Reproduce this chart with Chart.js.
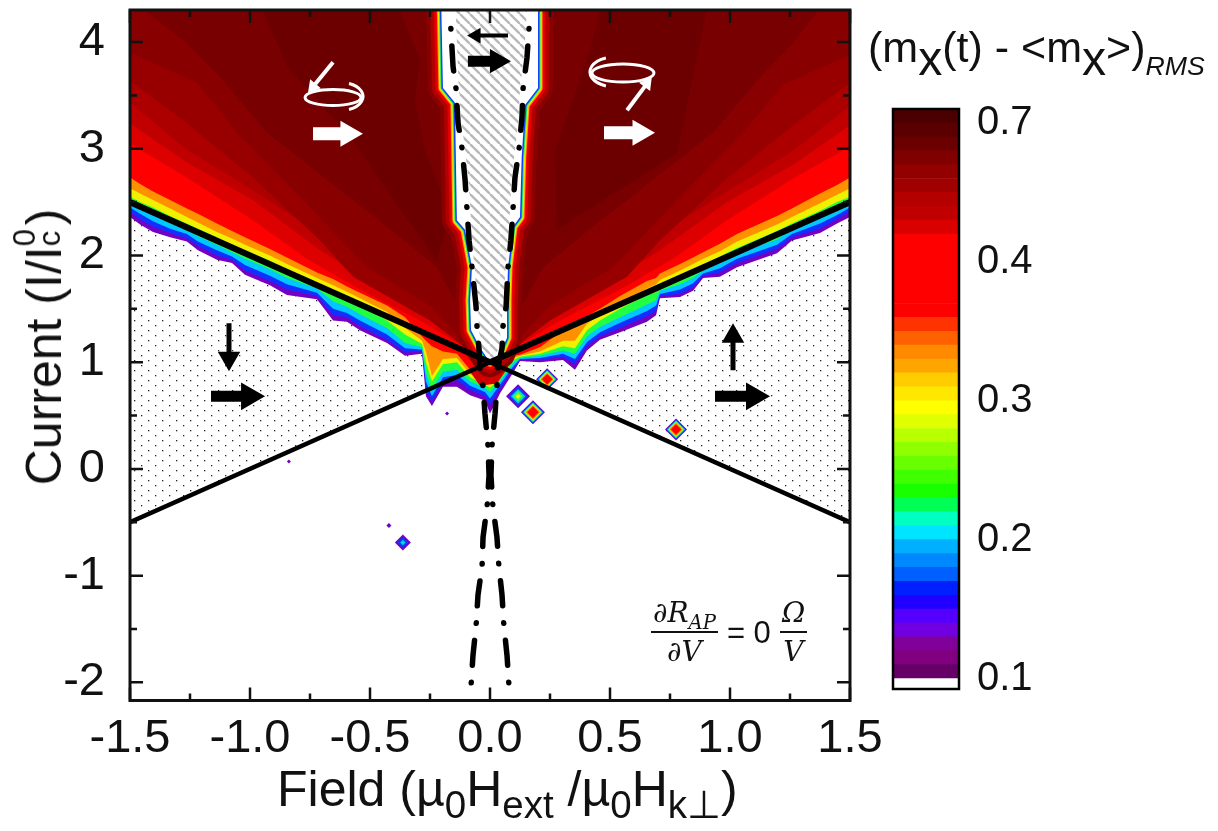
<!DOCTYPE html>
<html>
<head>
<meta charset="utf-8">
<script src="https://cdn.jsdelivr.net/npm/chart.js@4"></script>
<style>
  html, body { margin: 0; padding: 0; background: #fff; width: 1218px; height: 831px; overflow: hidden; }
  canvas { position: absolute; }
  .txt { position: absolute; font-family: "Liberation Sans", Arial, sans-serif; color: #111; white-space: nowrap; line-height: 1; }
  .low { position: relative; top: .3em; font-size: 77%; }
  #xTitle { left: 277px; top: 764px; font-size: 50px; }
  #yTitle { left: 40px; top: 347px; font-size: 50px; transform: translate(-50%, -50%) rotate(-90deg); }
  #yTitle .stack { display: inline-block; position: relative; width: .42em; height: 1em; vertical-align: baseline; }
  #yTitle .stack i { position: absolute; left: 0; font-style: normal; font-size: 62%; }
  #cbTitle { left: 868px; top: 21px; font-size: 43px; }
  #cbTitle .x { position: relative; top: .26em; font-size: 112%; }
  #cbTitle .rms { position: relative; top: .5em; font-size: 62%; font-style: italic; }
  #formula { left: 651px; top: 599px; font-size: 31px; display: flex; align-items: center; gap: 9px; }
  .frac { display: inline-flex; flex-direction: column; align-items: center; font-family: "DejaVu Serif", serif; font-style: italic; font-size: 28px; }
  .frac span:first-child { border-bottom: 2px solid #111; padding: 0 2px 4px; width: 100%; text-align: center; box-sizing: border-box; }
  .frac span:last-child { padding-top: 5px; }
  .frac sub { font-size: 70%; line-height: 0; }
</style>
</head>
<body>
<canvas id="mapChart" width="1218" height="837" style="left:0;top:-6px;width:1218px;height:837px"></canvas>
<canvas id="barChart" width="358" height="620" style="left:860px;top:90px;width:358px;height:620px"></canvas>
<div class="txt" id="xTitle">Field (µ<span class="low">0</span>H<span class="low">ext</span> /µ<span class="low">0</span>H<span class="low">k⊥</span>)</div>
<div class="txt" id="yTitle">Current (I/I<span class="stack"><i style="top:-.05em">0</i><i style="top:.75em">c</i></span>)</div>
<div class="txt" id="cbTitle">(m<span class="x">x</span>(t) - &lt;m<span class="x">x</span>&gt;)<span class="rms">RMS</span></div>
<div class="txt" id="formula">
  <span class="frac"><span>∂R<sub>AP</sub></span><span>∂V</span></span>
  <span>= 0</span>
  <span class="frac"><span>Ω</span><span>V</span></span>
</div>
<script>
// axes
const xTicks = [-1.5, -1.0, -0.5, 0.0, 0.5, 1.0, 1.5];
const xMinor = [-1.25, -0.75, -0.25, 0.25, 0.75, 1.25];
const yTicks = [-2, -1, 0, 1, 2, 3, 4];
const yMinor = [-1.5, -0.5, 0.5, 1.5, 2.5, 3.5];

// contour levels: field value on fieldGrid -> current of the level edge
const fieldGrid = [-1.5, -1.458, -1.404, -1.333, -1.263, -1.217, -1.138, -1.075, -1.021, -0.917, -0.846, -0.721, -0.654, -0.596, -0.542, -0.429, -0.354, -0.283, -0.267, -0.242, -0.196, -0.138, -0.083, -0.021, 0, 0.042, 0.096, 0.125, 0.208, 0.304, 0.354, 0.404, 0.458, 0.542, 0.654, 0.692, 0.708, 0.792, 0.846, 0.888, 0.958, 1.029, 1.196, 1.258, 1.375, 1.446, 1.5];
const levelPurple = [2.36, 2.29, 2.22, 2.17, 2.13, 2.05, 1.96, 1.93, 1.82, 1.72, 1.63, 1.59, 1.39, 1.38, 1.30, 1.18, 1.06, 1.08, 0.68, 0.59, 0.77, 0.77, 0.69, 0.64, 0.52, 0.71, 0.90, 1.01, 1.00, 1.02, 0.93, 1.11, 1.21, 1.28, 1.38, 1.44, 1.60, 1.61, 1.67, 1.79, 1.80, 1.89, 2.02, 2.14, 2.21, 2.30, 2.36];
const levelBlue = [2.41, 2.34, 2.27, 2.21, 2.16, 2.09, 2.00, 1.96, 1.86, 1.76, 1.68, 1.62, 1.44, 1.42, 1.34, 1.21, 1.09, 1.10, 0.74, 0.63, 0.81, 0.83, 0.74, 0.68, 0.60, 0.75, 0.93, 1.02, 1.02, 1.05, 0.98, 1.15, 1.24, 1.32, 1.43, 1.48, 1.62, 1.64, 1.70, 1.81, 1.84, 1.93, 2.06, 2.17, 2.25, 2.34, 2.41];
const levelCyan = [2.45, 2.39, 2.32, 2.25, 2.20, 2.13, 2.05, 1.99, 1.91, 1.81, 1.73, 1.65, 1.50, 1.46, 1.39, 1.26, 1.13, 1.12, 0.82, 0.68, 0.86, 0.88, 0.78, 0.72, 0.66, 0.79, 0.96, 1.03, 1.04, 1.08, 1.03, 1.19, 1.28, 1.37, 1.48, 1.53, 1.64, 1.68, 1.74, 1.83, 1.88, 1.97, 2.10, 2.20, 2.30, 2.38, 2.45];
const levelGreen = [2.49, 2.44, 2.38, 2.30, 2.24, 2.18, 2.10, 2.03, 1.97, 1.87, 1.79, 1.69, 1.57, 1.52, 1.45, 1.32, 1.18, 1.14, 0.90, 0.74, 0.91, 0.93, 0.82, 0.76, 0.72, 0.82, 0.99, 1.04, 1.06, 1.11, 1.08, 1.24, 1.33, 1.42, 1.54, 1.58, 1.67, 1.73, 1.79, 1.86, 1.93, 2.02, 2.15, 2.24, 2.35, 2.43, 2.49];
const levelYellow = [2.55, 2.50, 2.45, 2.37, 2.30, 2.25, 2.17, 2.10, 2.05, 1.95, 1.87, 1.74, 1.67, 1.61, 1.54, 1.39, 1.26, 1.17, 1.00, 0.82, 0.98, 1.00, 0.86, 0.79, 0.76, 0.85, 1.02, 1.05, 1.08, 1.15, 1.13, 1.30, 1.39, 1.50, 1.63, 1.66, 1.72, 1.81, 1.86, 1.91, 1.99, 2.07, 2.23, 2.30, 2.42, 2.50, 2.55];
const levelOrange = [2.63, 2.58, 2.52, 2.44, 2.36, 2.31, 2.22, 2.16, 2.10, 2.00, 1.92, 1.79, 1.72, 1.66, 1.60, 1.47, 1.32, 1.20, 1.10, 0.87, 1.03, 1.04, 0.89, 0.82, 0.80, 0.87, 1.04, 1.06, 1.10, 1.20, 1.20, 1.36, 1.44, 1.56, 1.69, 1.73, 1.77, 1.86, 1.92, 1.97, 2.04, 2.13, 2.29, 2.36, 2.49, 2.57, 2.63];
const levelRed = [2.73, 2.67, 2.60, 2.52, 2.44, 2.39, 2.30, 2.23, 2.17, 2.06, 1.98, 1.84, 1.78, 1.71, 1.65, 1.53, 1.42, 1.24, 1.20, 1.15, 1.10, 1.08, 0.93, 0.85, 0.84, 0.90, 1.06, 1.07, 1.14, 1.30, 1.35, 1.43, 1.50, 1.62, 1.76, 1.79, 1.83, 1.92, 1.98, 2.03, 2.11, 2.20, 2.37, 2.44, 2.58, 2.66, 2.73];

// darker levels of the fan
const fanX1 = [-1.5, -1.263, -0.988, -0.763, -0.542, -0.292, -0.083, 0, 0.083, 0.292, 0.542, 0.763, 0.988, 1.263, 1.5];
const fanY1 = [3.05, 2.73, 2.33, 1.97, 1.68, 1.39, 1.11, 1.02, 1.11, 1.39, 1.68, 1.97, 2.33, 2.72, 3.02];
const fanX2 = [-1.5, -1.263, -0.988, -0.708, -0.458, -0.208, -0.092, 0, 0.092, 0.208, 0.458, 0.708, 0.988, 1.263, 1.5];
const fanY2 = [3.24, 2.87, 2.52, 2.05, 1.70, 1.35, 1.11, 1.04, 1.11, 1.33, 1.70, 2.05, 2.50, 2.85, 3.22];
const fanX3 = [-1.5, -1.263, -0.988, -0.763, -0.458, -0.208, -0.104, 0, 0.104, 0.208, 0.458, 0.763, 0.988, 1.263, 1.5];
const fanY3 = [3.43, 2.99, 2.61, 2.28, 1.82, 1.44, 1.20, 1.06, 1.20, 1.44, 1.82, 2.28, 2.60, 2.98, 3.40];
const fanX4 = [-1.5, -1.263, -0.988, -0.708, -0.571, -0.25, -0.117, 0, 0.117, 0.25, 0.571, 0.708, 0.988, 1.263, 1.5];
const fanY4 = [3.64, 3.24, 2.73, 2.14, 1.80, 1.39, 1.16, 1.08, 1.16, 1.39, 1.80, 2.14, 2.72, 3.22, 3.62];
const fanX5 = [-1.5, -1.221, -1.054, -0.779, -0.513, -0.25, -0.133, 0, 0.133, 0.25, 0.513, 0.779, 1.054, 1.221, 1.5];
const fanY5 = [3.90, 3.62, 3.15, 2.52, 1.89, 1.53, 1.25, 1.10, 1.25, 1.53, 1.89, 2.52, 3.15, 3.60, 3.88];
const fanX6 = [-1.44, -1.263, -1.125, -0.929, -0.679, -0.429, -0.221, -0.146, 0, 0.146, 0.221, 0.429, 0.679, 0.929, 1.125, 1.263, 1.37];
const fanY6 = [4.30, 3.99, 3.67, 3.15, 2.71, 2.27, 1.89, 1.58, 1.20, 1.58, 1.89, 2.27, 2.71, 3.15, 3.67, 3.99, 4.30];

// darkest patches and the dark blob under the crossing
const patchLeftX = [-0.946, -0.846, -0.571, -0.363, -0.221, -0.167, -0.271, -0.313, -0.292, -0.375];
const patchLeftY = [4.30, 3.77, 3.08, 2.40, 1.95, 2.38, 2.99, 3.45, 3.83, 4.30];
const patchRightX = [0.5, 0.904, 0.863, 0.779, 0.279, 0.271, 0.417, 0.458];
const patchRightY = [4.30, 4.30, 3.86, 2.96, 2.24, 2.99, 3.92, 4.30];
const blobX = [-0.083, -0.042, 0.042, 0.075, 0.029, -0.042];
const blobY = [0.91, 1.00, 1.00, 0.95, 0.80, 0.78];

// central no-precession gap
const gapX = [-0.204, -0.196, -0.146, -0.138, -0.104, -0.075, -0.083, -0.079, -0.042, 0, 0.042, 0.071, 0.071, 0.075, 0.096, 0.125, 0.132, 0.146, 0.2, 0.2];
const gapY = [4.45, 3.57, 3.43, 2.33, 2.24, 1.89, 1.58, 1.30, 1.14, 1.00, 1.08, 1.23, 1.58, 1.89, 2.27, 2.36, 2.92, 3.41, 3.57, 4.45];
const hatchX = [-0.146, -0.13, -0.118, -0.105, -0.09, -0.082, -0.075, -0.065, -0.05, -0.046, -0.038, 0, 0.038, 0.046, 0.055, 0.065, 0.075, 0.084, 0.09, 0.105, 0.12, 0.125, 0.14, 0.15, 0.155];
const hatchY = [4.45, 3.57, 3.24, 3.01, 2.71, 2.44, 2.14, 1.89, 1.52, 1.33, 1.13, 1.00, 1.13, 1.33, 1.52, 1.89, 2.14, 2.44, 2.73, 3.00, 3.29, 3.57, 3.85, 4.13, 4.45];

// boundary lines
const wedgeX = [-1.5, 0, 1.5];
const wedgeUpper = [2.5, 1, 2.5];
const wedgeLower = [-0.5, 1, -0.5];
const dashLeftX = [-0.167, -0.154, -0.142, -0.133, -0.117, -0.104, -0.096, -0.087, -0.075, -0.058, -0.054, -0.046, -0.042, -0.029, -0.021, -0.008, -0.004, -0.012, -0.029, -0.033, -0.05, -0.058, -0.071, -0.079];
const dashRightX = [0.167, 0.154, 0.138, 0.133, 0.121, 0.104, 0.096, 0.087, 0.075, 0.067, 0.054, 0.05, 0.033, 0.029, 0.021, 0.008, 0.004, 0.012, 0.029, 0.037, 0.05, 0.058, 0.071, 0.079];
const dashLeftY = [4.28, 3.77, 3.57, 3.24, 3.01, 2.71, 2.44, 2.14, 1.89, 1.52, 1.33, 1.13, 0.94, 0.77, 0.52, 0.21, -0.06, -0.35, -0.64, -0.91, -1.18, -1.47, -1.75, -2.03];
const dashRightY = [4.28, 3.85, 3.57, 3.29, 3.00, 2.73, 2.44, 2.14, 1.89, 1.52, 1.33, 1.13, 0.95, 0.77, 0.52, 0.21, -0.06, -0.35, -0.64, -0.91, -1.18, -1.47, -1.75, -2.03];

// isolated spots
const spotX = [0.117, 0.179, 0.238, 0.775, -0.363, -0.421, -0.179, -0.838];
const spotY = [0.68, 0.53, 0.84, 0.37, -0.69, -0.53, 0.52, 0.07];
const spotPeak = [5, 7, 7, 7, 3, 1, 1, 1];

// colour bar
const barColors = ["#660066", "#800080", "#800099", "#7000e0", "#5500ff", "#2000ff", "#0020ff", "#0060ff", "#0088ff", "#00b0ff", "#00e5ff", "#00ffc0", "#00ff55", "#18ff00", "#40ff00", "#68ff00", "#90ff00", "#b8ff00", "#e0ff00", "#ffff00", "#ffe800", "#ffcc00", "#ffa500", "#ff8a00", "#ff6000", "#ff3300", "#ff0000", "#ff0000", "#ff0000", "#ff0000", "#ff0000", "#ff0000", "#da0000", "#c00000", "#b50000", "#a00000", "#920000", "#800000", "#6a0000", "#5a0000", "#4a0000"];
const barTickPos = [0, 10, 20, 30, 40];
const barTickLabels = ["0.1", "0.2", "0.3", "0.4", "0.7"];

const pxPerX = 240, pxPerY = 106.67;
const pairs = (xs, ys) => xs.map((x, i) => ({ x: x, y: ys[i] }));

function makeTile(w, h, draw) {
  const c = document.createElement("canvas");
  c.width = w;
  c.height = h;
  const g = c.getContext("2d");
  g.fillStyle = "#fff";
  g.fillRect(0, 0, w, h);
  draw(g);
  return g.createPattern(c, "repeat");
}
const dotPattern = makeTile(14, 10, g => {
  g.fillStyle = "#222";
  g.fillRect(1, 1, 1.3, 1.3);
  g.fillRect(8, 6, 1.3, 1.3);
});
const hatchPattern = makeTile(10, 10, g => {
  g.strokeStyle = "#b8b8b8";
  g.lineWidth = 2.4;
  [-10, 0, 10].forEach(o => {
    g.beginPath();
    g.moveTo(o, 0);
    g.lineTo(o + 10, 10);
    g.stroke();
  });
});

const datasets = [];
function add(ds) {
  datasets.push(Object.assign({ showLine: true, pointRadius: 0, borderWidth: 0, order: -datasets.length }, ds));
}

// dotted wings
add({ data: pairs([-1.5, -1.5, 0], [-0.5, 2.6, 1]), polyFill: dotPattern });
add({ data: pairs([1.5, 1.5, 0], [-0.5, 2.6, 1]), polyFill: dotPattern });

// contour levels, low to high, each filled up to the top of the plot
[[levelPurple, "#7400c4"], [levelBlue, "#1030ff"], [levelCyan, "#00c8ff"], [levelGreen, "#20ff40"],
 [levelYellow, "#f0f000"], [levelOrange, "#ff9000"], [levelRed, "#ff0000"]].forEach(l => {
  add({ data: pairs(fieldGrid, l[0]), fill: "end", backgroundColor: l[1] });
});
[[fanX1, fanY1, "#dc0000"], [fanX2, fanY2, "#c00000"], [fanX3, fanY3, "#ac0000"],
 [fanX4, fanY4, "#980000"], [fanX5, fanY5, "#880000"], [fanX6, fanY6, "#780000"]].forEach(l => {
  add({ data: pairs(l[0], l[1]), fill: "end", backgroundColor: l[2] });
});
add({ data: pairs(patchLeftX, patchLeftY), polyFill: "#6c0000" });
add({ data: pairs(patchRightX, patchRightY), polyFill: "#6c0000" });
add({ data: pairs(blobX, blobY), polyFill: "#d00000" });

// fringe round the gap, widest stroke first, then the gap itself
[[30, "#8a0000"], [22, "#b00000"], [15, "#e00000"], [11, "#ff0000"], [9, "#ffa000"], [7, "#e8f000"], [5, "#20f060"], [3, "#1040ff"]].forEach(s => {
  add({ data: pairs(gapX, gapY), borderWidth: s[0], borderColor: s[1], borderJoinStyle: "round" });
});
add({ data: pairs(gapX, gapY), polyFill: "#ffffff" });
add({ data: pairs(hatchX, hatchY), polyFill: hatchPattern });

// isolated spots as nested diamonds, the peaked ones have a wide red core
const spotPx = [12, 12, 11, 11, 8, 2.5, 2, 2];
const ringColors = ["#7000c8", "#0040ff", "#00d8d8", "#40ff40", "#ffee00", "#ff8000", "#ff0000"];
const peakedRings = [1, 0.9, 0.82, 0.74, 0.67, 0.6, 0.48];
ringColors.forEach((color, k) => {
  const keep = spotX.map((_, i) => i).filter(i => spotPeak[i] > k);
  add({
    data: keep.map(i => ({ x: spotX[i], y: spotY[i] })),
    showLine: false,
    pointStyle: "rectRot",
    pointBackgroundColor: color,
    pointBorderWidth: 0,
    pointRadius: keep.map(i => spotPx[i] * (spotPeak[i] === 7 ? peakedRings[k] : (spotPeak[i] - k) / spotPeak[i]))
  });
});

// dash-dot curves and wedge lines
const dashStyle = { borderWidth: 5.5, borderColor: "#000", borderDash: [25, 17.1, 0.5, 17.1], borderDashOffset: 25.75, borderCapStyle: "round" };
add(Object.assign({ data: pairs(dashLeftX, dashLeftY) }, dashStyle));
add(Object.assign({ data: pairs(dashRightX, dashRightY) }, dashStyle));
add({ data: pairs(wedgeX, wedgeLower), borderWidth: 4.5, borderColor: "#000", borderDash: [], borderDashOffset: 0 });
add({ data: pairs(wedgeX, wedgeUpper), borderWidth: 6, borderColor: "#000", borderDash: [], borderDashOffset: 0 });

// arrows: tail x, tail y, head x, head y, colour, line width, head size
const arrowList = [
  [-1.1625, 0.68, -1.004, 0.68, "#000", 11, 16],
  [0.9375, 0.68, 1.10, 0.68, "#000", 11, 16],
  [-0.092, 3.82, 0.029, 3.82, "#000", 11, 14],
  [0.075, 4.06, -0.058, 4.06, "#000", 4, 9],
  [-1.0875, 1.366, -1.0875, 1.038, "#000", 5, 13],
  [1.0125, 0.925, 1.0125, 1.244, "#000", 5, 13],
  [-0.7375, 3.14, -0.592, 3.14, "#fff", 13, 15],
  [0.475, 3.15, 0.625, 3.15, "#fff", 13, 15],
  [-0.654, 3.81, -0.7375, 3.58, "#fff", 4, 8],
  [0.571, 3.36, 0.654, 3.61, "#fff", 4, 8]
];
arrowList.forEach(a => {
  const angle = Math.atan2((a[2] - a[0]) * pxPerX, (a[3] - a[1]) * pxPerY) * 180 / Math.PI;
  add({
    data: [{ x: a[0], y: a[1] }, { x: a[2], y: a[3] }],
    borderColor: a[4],
    borderWidth: a[5],
    borderDash: [],
    borderDashOffset: 0,
    pointStyle: "triangle",
    pointBackgroundColor: a[4],
    pointBorderWidth: 0,
    pointRadius: [0, a[6]],
    pointRotation: [0, angle]
  });
});

// closed shapes the filler cannot do (x not monotonic)
const polyFillPlugin = {
  id: "polyFill",
  beforeDatasetDraw(chart, args) {
    const fillStyle = chart.data.datasets[args.index].polyFill;
    if (!fillStyle) return;
    const a = chart.chartArea, ctx = chart.ctx;
    ctx.save();
    ctx.beginPath();
    ctx.rect(a.left, a.top, a.right - a.left, a.bottom - a.top);
    ctx.clip();
    ctx.beginPath();
    args.meta.data.forEach((p, i) => (i ? ctx.lineTo(p.x, p.y) : ctx.moveTo(p.x, p.y)));
    ctx.closePath();
    ctx.fillStyle = fillStyle;
    ctx.fill();
    ctx.restore();
  }
};

// precession orbits: x, y, x radius, y radius, arc side
const orbitList = [[-0.654, 3.48, 28, 8, 1], [0.554, 3.71, 31, 9, -1]];

// ticks point inward on all four sides, then the frame
const framePlugin = {
  id: "frame",
  afterDatasetsDraw(chart) {
    const a = chart.chartArea, ctx = chart.ctx, sx = chart.scales.x, sy = chart.scales.y;
    ctx.save();
    ctx.setLineDash([]);
    ctx.strokeStyle = "#fff";
    ctx.lineWidth = 3;
    orbitList.forEach(o => {
      const cx = sx.getPixelForValue(o[0]), cy = sy.getPixelForValue(o[1]);
      ctx.beginPath();
      ctx.ellipse(cx, cy, o[2], o[3], 0, 0, Math.PI * 2);
      ctx.stroke();
      ctx.beginPath();
      if (o[4] > 0) ctx.ellipse(cx + 8, cy - 1, o[2] - 6, o[3] + 6, 0, -1.2, 1.2);
      else ctx.ellipse(cx - 8, cy - 1, o[2] - 6, o[3] + 6, 0, Math.PI - 1.2, Math.PI + 1.2);
      ctx.stroke();
    });
    ctx.strokeStyle = "#111";
    ctx.lineWidth = 2.5;
    const xTick = (v, len) => {
      const p = sx.getPixelForValue(v);
      ctx.beginPath();
      ctx.moveTo(p, a.bottom); ctx.lineTo(p, a.bottom - len);
      ctx.moveTo(p, a.top); ctx.lineTo(p, a.top + len);
      ctx.stroke();
    };
    const yTick = (v, len) => {
      const p = sy.getPixelForValue(v);
      ctx.beginPath();
      ctx.moveTo(a.left, p); ctx.lineTo(a.left + len, p);
      ctx.moveTo(a.right, p); ctx.lineTo(a.right - len, p);
      ctx.stroke();
    };
    xTicks.forEach(v => xTick(v, 13));
    xMinor.forEach(v => xTick(v, 7));
    yTicks.forEach(v => yTick(v, 13));
    yMinor.forEach(v => yTick(v, 7));
    ctx.lineWidth = 3;
    ctx.strokeRect(a.left, a.top, a.right - a.left, a.bottom - a.top);
    ctx.restore();
  }
};

const tickFont = { family: "'Liberation Sans', Arial, sans-serif", size: 47 };
// tick labels must not push the plot area in
const noPadV = s => { s.paddingTop = 0; s.paddingBottom = 0; };
const noPadH = s => { s.paddingLeft = 0; s.paddingRight = 0; };

new Chart(document.getElementById("mapChart"), {
  type: "scatter",
  data: { datasets: datasets },
  plugins: [polyFillPlugin, framePlugin],
  options: {
    responsive: false,
    animation: false,
    events: [],
    layout: { padding: { top: 4, right: 368, left: 0, bottom: 0 } },
    plugins: { legend: { display: false }, tooltip: { enabled: false } },
    scales: {
      x: {
        type: "linear", min: -1.5, max: 1.5,
        grid: { display: false }, border: { display: false },
        afterBuildTicks: s => { s.ticks = xTicks.map(v => ({ value: v })); },
        afterFit: s => { s.height = 130.5; noPadH(s); },
        ticks: { color: "#111", font: tickFont, padding: 2, maxRotation: 0, autoSkip: false, callback: v => v.toFixed(1) }
      },
      y: {
        type: "linear", min: -2.17, max: 4.3,
        grid: { display: false }, border: { display: false },
        afterBuildTicks: s => { s.ticks = yTicks.map(v => ({ value: v })); },
        afterFit: s => { s.width = 130; noPadV(s); },
        ticks: { color: "#111", font: tickFont, padding: 17, autoSkip: false, callback: v => String(v) }
      }
    }
  }
});

// colour bar: one floating bar per colour band
const barSets = [{ data: [[-0.75, 0]], backgroundColor: "#fff", barPercentage: 1, categoryPercentage: 1 }];
barColors.forEach((c, i) => {
  barSets.push({ data: [[i, i + 1]], backgroundColor: c, barPercentage: 1, categoryPercentage: 1 });
});

new Chart(document.getElementById("barChart"), {
  type: "bar",
  data: { labels: ["band"], datasets: barSets },
  plugins: [{
    id: "barFrame",
    afterDatasetsDraw(chart) {
      const a = chart.chartArea, ctx = chart.ctx;
      ctx.save();
      ctx.strokeStyle = "#000";
      ctx.lineWidth = 2.5;
      ctx.strokeRect(a.left, a.top, a.right - a.left, a.bottom - a.top);
      ctx.restore();
    }
  }],
  options: {
    responsive: false,
    animation: false,
    events: [],
    layout: { padding: { left: 33, top: 19, bottom: 21, right: 0 } },
    plugins: { legend: { display: false }, tooltip: { enabled: false } },
    scales: {
      x: { stacked: true, display: false },
      y: {
        position: "right", min: -0.75, max: 41,
        grid: { display: false }, border: { display: false },
        afterBuildTicks: s => { s.ticks = barTickPos.map(v => ({ value: v })); },
        afterFit: s => { s.width = 259; noPadV(s); },
        ticks: {
          color: "#111",
          font: { family: "'Liberation Sans', Arial, sans-serif", size: 40 },
          padding: 10,
          autoSkip: false,
          callback: v => barTickLabels[barTickPos.indexOf(v)]
        }
      }
    }
  }
});
</script>
</body>
</html>
